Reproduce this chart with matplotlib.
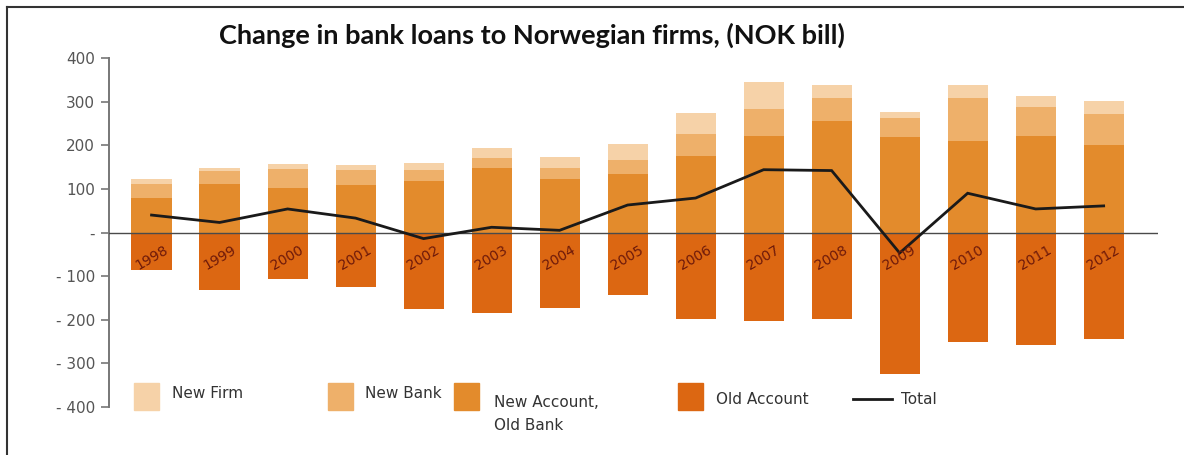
import matplotlib
matplotlib.use("Agg")
import matplotlib.pyplot as plt
from matplotlib.lines import Line2D
import numpy as np

# Change in bank loans to Norwegian firms, NOK billion
years = ["1998", "1999", "2000", "2001", "2002", "2003", "2004", "2005",
         "2006", "2007", "2008", "2009", "2010", "2011", "2012"]
new_account_old_bank = [79, 111, 103, 109, 117, 147, 122, 135, 176, 222, 255, 218, 209, 222, 200]
new_bank = [32, 29, 43, 35, 27, 24, 26, 32, 50, 61, 53, 44, 99, 66, 72]
new_firm = [12, 8, 12, 10, 15, 22, 26, 36, 48, 62, 31, 14, 29, 26, 30]
old_account = [-87, -131, -107, -125, -175, -185, -172, -144, -199, -204, -199, -324, -250, -259, -244]
total = [40, 23, 54, 33, -14, 12, 5, 63, 79, 144, 142, -47, 90, 54, 61]

yticks = [400, 300, 200, 100, 0, -100, -200, -300, -400]
ytick_labels = ["400", "300", "200", "100", "-", "- 100", "- 200", "- 300", "- 400"]

c_firm = "#F6D2A8"
c_bank = "#EEB06A"
c_naob = "#E38B2C"
c_old = "#DC6712"
c_year = "#6E1A0A"

plt.rcParams["font.family"] = ["DejaVu Sans"]

fig = plt.figure(figsize=(11.84, 4.55), dpi=100)
ax = fig.add_axes([0.0921, 0.1055, 0.886, 0.767])

x = np.arange(len(years))
w = 0.59
naob = np.array(new_account_old_bank)
nb = np.array(new_bank)
nf = np.array(new_firm)

ax.bar(x, old_account, w, color=c_old, zorder=2)
ax.bar(x, naob, w, color=c_naob, zorder=2)
ax.bar(x, nb, w, bottom=naob, color=c_bank, zorder=2)
ax.bar(x, nf, w, bottom=naob + nb, color=c_firm, zorder=2)

ax.axhline(0, color="#4a4a4a", lw=1.0, zorder=3)
ax.plot(x, total, color="#1a1a1a", lw=2.0, zorder=4, solid_joinstyle="miter")

for xi, yr in zip(x, years):
    ax.text(xi, -58, yr, rotation=30, ha="center", va="center",
            fontsize=10, color=c_year, zorder=5)

ax.set_xlim(-0.625, 14.8)
ax.set_ylim(-400, 400)
ax.set_xticks([])
ax.set_yticks(yticks)
ax.set_yticklabels(ytick_labels)
ax.tick_params(axis="y", direction="out", length=6, width=1.2, color="#777777",
               labelsize=11, labelcolor="#555555", pad=4)
for s in ["top", "right", "bottom"]:
    ax.spines[s].set_visible(False)
ax.spines["left"].set_color("#777777")
ax.spines["left"].set_linewidth(1.4)

fig.text(0.449, 0.923, "Change in bank loans to Norwegian firms, (NOK bill)",
         ha="center", va="center", fontsize=19.5, fontweight="bold",
         family=["Lato", "DejaVu Sans"], color="#111111")

# Legend drawn in figure pixel coordinates
H = 455.0
Wd = 1184.0
def fx(px):
    return px / Wd
def fy(py):
    return 1 - py / H

legend_items = [
    (134, c_firm, "New Firm", 172, 393),
    (328, c_bank, "New Bank", 365, 393),
    (454, c_naob, "New Account,\nOld Bank", 494, 414),
    (678, c_old, "Old Account", 716, 400),
]
for px, col, label, tx, ty in legend_items:
    fig.patches.append(plt.Rectangle((fx(px), fy(410)), 25 / Wd, 27 / H,
                                     transform=fig.transFigure, color=col,
                                     figure=fig))
    fig.text(fx(tx), fy(ty), label, ha="left", va="center", fontsize=11,
             color="#333333", linespacing=1.6)

fig.lines.append(Line2D([fx(853), fx(892)], [fy(399), fy(399)],
                        transform=fig.transFigure, color="#1a1a1a", lw=2.0))
fig.text(fx(901), fy(400), "Total", ha="left", va="center", fontsize=11,
         color="#333333")

# frame lines along the top and left edges
fig.lines.append(Line2D([fx(7), 1], [fy(7), fy(7)], transform=fig.transFigure,
                        color="#333333", lw=1.5))
fig.lines.append(Line2D([fx(7), fx(7)], [fy(7), 0], transform=fig.transFigure,
                        color="#333333", lw=1.5))

fig.savefig("out.png", dpi=100)
